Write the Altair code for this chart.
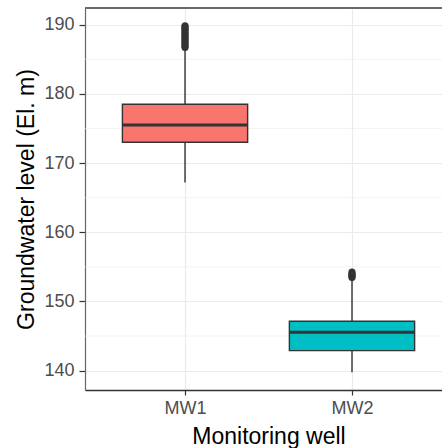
import altair as alt
import pandas as pd

# Summary statistics
wells = ["MW1", "MW2"]
positions = [1, 2]
q1 = [173.0, 142.9]
median = [175.5, 145.55]
q3 = [178.5, 147.15]
whisker_lo = [167.2, 139.77]
whisker_hi = [186.6, 153.4]

# Outliers (dense clusters above upper whiskers)
mw1_outliers = [186.7, 186.9, 187.1, 187.3, 187.5, 187.7, 187.9, 188.1, 188.3,
                188.5, 188.7, 188.9, 189.1, 189.3, 189.5, 189.7, 189.85]
mw2_outliers = [153.45, 153.6, 153.75, 153.9, 154.05, 154.26]

y_ticks = [140, 150, 160, 170, 180, 190]
minor_ticks = [145, 155, 165, 175, 185]

box_df = pd.DataFrame({
    "well": wells, "pos": positions, "q1": q1, "median": median, "q3": q3,
    "lo": whisker_lo, "hi": whisker_hi,
})
out_df = pd.DataFrame({
    "well": ["MW1"] * len(mw1_outliers) + ["MW2"] * len(mw2_outliers),
    "pos": [1] * len(mw1_outliers) + [2] * len(mw2_outliers),
    "value": mw1_outliers + mw2_outliers,
})
minor_df = pd.DataFrame({"y": minor_ticks})

W, H = 357, 382
font = "Liberation Sans"
xscale = alt.Scale(domain=[0.401, 2.539], nice=False, zero=False)
yscale = alt.Scale(domain=[137.21, 192.41], nice=False, zero=False)

xaxis = alt.Axis(
    values=[1, 2], labelExpr="datum.value == 1 ? 'MW1' : 'MW2'",
    title="Monitoring well", grid=True, gridColor="#EBEBEB", gridWidth=1.2,
    domainColor="#333333", domainWidth=1.3, tickColor="#333333", tickSize=5,
    tickWidth=1.2, labelFontSize=18, labelColor="#4D4D4D", labelFont=font,
    labelPadding=4, titleFont=font, titleFontSize=23, titleFontWeight="normal",
    titleColor="black", titleX=183.5, titleY=53, titleBaseline="alphabetic",
    titleAnchor="middle",
)
yaxis = alt.Axis(
    values=y_ticks, title="Groundwater level (El. m)", grid=True,
    gridColor="#EBEBEB", gridWidth=1.2, domain=True, domainColor="#666666",
    domainWidth=1.2, tickColor="#333333",
    tickSize=6, tickWidth=1.2, labelFontSize=18, labelColor="#4D4D4D",
    labelFont=font, labelPadding=5, titleFont=font, titleFontSize=23,
    titleFontWeight="normal", titleColor="black", titleAngle=270,
    titleX=-52, titleY=191, titleBaseline="alphabetic", titleAlign="center",
)

color = alt.Color("well:N", scale=alt.Scale(domain=wells, range=["#F8766D", "#00BFC4"]),
                  legend=None)

minor = alt.Chart(minor_df).mark_rule(color="#EBEBEB", strokeWidth=0.6).encode(
    y=alt.Y("y:Q", scale=yscale, axis=yaxis)
)

# top panel border
top_border = alt.Chart(minor_df).mark_rule(color="#666666", strokeWidth=1.2).encode(
    x=alt.value(0), x2=alt.value(W), y=alt.value(0)
)

base = alt.Chart(box_df).transform_calculate(
    xl="datum.pos - 0.375", xr="datum.pos + 0.375"
)

whisk = base.mark_rule(color="#333333", strokeWidth=1.4).encode(
    x=alt.X("pos:Q", scale=xscale, axis=xaxis),
    y=alt.Y("lo:Q", scale=yscale, axis=yaxis),
    y2="hi:Q",
)

box = base.mark_bar(stroke="#333333", strokeWidth=1.4).encode(
    x=alt.X("xl:Q", scale=xscale, axis=xaxis),
    x2="xr:Q",
    y=alt.Y("q1:Q", scale=yscale, axis=yaxis),
    y2="q3:Q",
    color=color,
)

med = base.mark_rule(color="#333333", strokeWidth=3).encode(
    x=alt.X("xl:Q", scale=xscale, axis=xaxis),
    x2="xr:Q",
    y=alt.Y("median:Q", scale=yscale, axis=yaxis),
)

pts = alt.Chart(out_df).mark_circle(size=50, color="#333333", opacity=1).encode(
    x=alt.X("pos:Q", scale=xscale, axis=xaxis),
    y=alt.Y("value:Q", scale=yscale, axis=yaxis),
)

chart = alt.layer(minor, top_border, whisk, box, med, pts).properties(
    width=W, height=H,
    autosize=alt.AutoSizeParams(type="none"),
    padding={"left": 85, "top": 8, "right": 0, "bottom": 58},
    background="white",
).configure_view(stroke=None)

chart.save("out.html", embed_options={"renderer": "svg", "actions": False})
